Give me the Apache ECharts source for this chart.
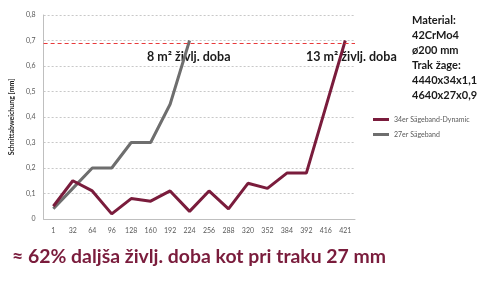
<!DOCTYPE html>
<html><head><meta charset="utf-8">
<script src="https://cdn.jsdelivr.net/npm/echarts@6/dist/echarts.min.js"></script>
<style>html,body{margin:0;padding:0;background:#fff}#c{width:498px;height:281px}</style>
</head><body><div id="c"></div>
<script>
const categories = ['1','32','64','96','128','160','192','224','256','288','320','352','384','392','416','421'];
const series34 = [0.05,0.15,0.11,0.02,0.08,0.07,0.11,0.03,0.11,0.04,0.14,0.12,0.18,0.18,0.44,0.70];
const series27 = [0.04,0.12,0.20,0.20,0.30,0.30,0.45,0.70,null,null,null,null,null,null,null,null];
const limitValue = 0.69;
const yTicks = ['0','0,1','0,2','0,3','0,4','0,5','0,6','0,7','0,8'];
const infoLines = ['Material:','42CrMo4','ø200 mm','Trak žage:','4440x34x1,1','4640x27x0,9'];

const maroon = '#7a1c3c';
const chart = echarts.init(document.getElementById('c'));
const font = 'Lato, "Open Sans", sans-serif';
chart.setOption({
  animation:false,
  textStyle:{fontFamily:font},
  grid:{left:40,right:143,top:15,bottom:62},
  legend:{
    orient:'vertical', left:368, top:111, itemGap:8, itemWidth:16, itemHeight:3, icon:'rect',
    textStyle:{fontSize:7,color:'#595959',fontFamily:font},
    data:['34er Sägeband-Dynamic','27er Sägeband']
  },
  xAxis:{
    type:'category', data:categories, boundaryGap:true,
    axisLine:{lineStyle:{color:'#bfbfbf'}}, axisTick:{show:false},
    axisLabel:{fontSize:7,color:'#595959',margin:8,interval:0}
  },
  yAxis:{
    type:'value', min:0, max:0.8, interval:0.1,
    name:'Schnittabweichung [mm]', nameLocation:'middle', nameGap:23,
    nameTextStyle:{fontSize:7,fontWeight:'bold',color:'#222'},
    axisLine:{show:true,lineStyle:{color:'#bfbfbf'}}, axisTick:{show:false},
    axisLabel:{fontSize:7,color:'#595959',margin:8,formatter:(v)=>yTicks[Math.round(v*10)]},
    splitLine:{lineStyle:{color:'#c8c8c8',type:[2,2]}}
  },
  series:[
    {name:'34er Sägeband-Dynamic',type:'line',data:series34,symbol:'none',
     lineStyle:{color:maroon,width:3},itemStyle:{color:maroon},z:3,
     markLine:{silent:true,symbol:'none',label:{show:false},
       lineStyle:{color:'#e8393a',type:[4,3],width:1.2},data:[{yAxis:limitValue}]}},
    {name:'27er Sägeband',type:'line',data:series27,symbol:'none',
     lineStyle:{color:'#6e6e6e',width:3},itemStyle:{color:'#6e6e6e'},z:2}
  ],
  graphic:[
    {type:'text',left:147,top:50,style:{text:'8 m² življ. doba',font:'bold 12.5px '+font,fill:'#1a1a1a'}},
    {type:'text',left:306,top:50,style:{text:'13 m² življ. doba',font:'bold 12.5px '+font,fill:'#1a1a1a'}},
    {type:'text',left:412,top:13,style:{text:infoLines.join('\n'),font:'bold 11px '+font,fill:'#1a1a1a',lineHeight:15}},
    {type:'text',left:12,top:247,style:{text:'≈ 62% daljša življ. doba kot pri traku 27 mm',font:'bold 19.4px '+font,fill:maroon}}
  ]
});
</script></body></html>
